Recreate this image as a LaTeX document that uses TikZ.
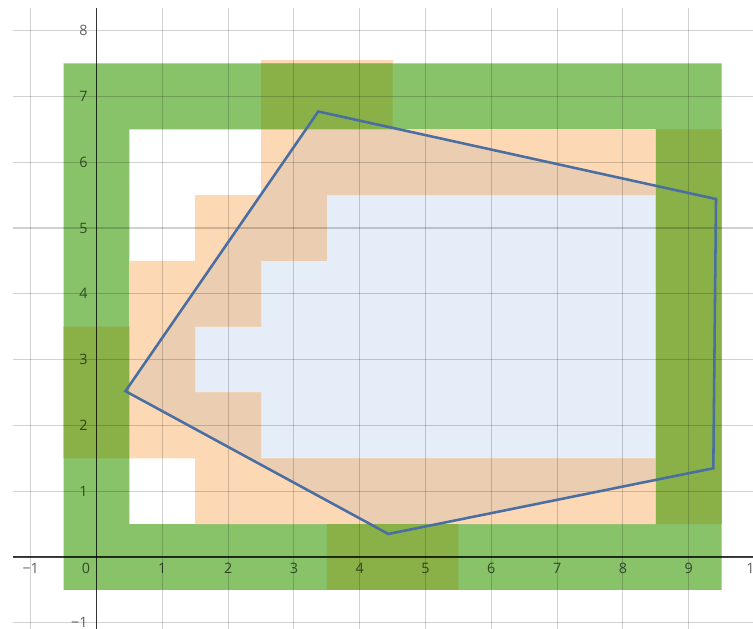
\documentclass[tikz,border=0pt]{standalone}
\usepackage{fontspec}
\setmainfont{Open Sans}
\definecolor{cgreen}{RGB}{136,194,105}
\definecolor{cdkgreen}{RGB}{138,176,72}
\definecolor{cpeach}{RGB}{253,216,181}
\definecolor{ctan}{RGB}{235,205,178}
\definecolor{clblue}{RGB}{229,237,248}
\definecolor{cline}{RGB}{72,110,162}
\tikzset{
  gridline/.style={black, opacity=0.18, line width=0.45pt},
  axisline/.style={black, opacity=0.75, line width=0.55pt},
  ticklab/.style={font=\fontsize{6.2}{7}\selectfont, text=black, text opacity=0.62, inner sep=0pt},
  polyline/.style={cline, line width=1.1pt, line join=miter},
}
\begin{document}
\begin{tikzpicture}
\useasboundingbox (-1.467,-1.094) rectangle (9.977,8.465);
% polygon vertices
\coordinate (pA) at (0.44,2.52);
\coordinate (pB) at (3.37,6.77);
\coordinate (pC) at (9.415,5.44);
\coordinate (pD) at (9.374,1.348);
\coordinate (pE) at (4.435,0.35);
% polygon fill
\fill[clblue] (pA) -- (pB) -- (pC) -- (pD) -- (pE) -- cycle;
% green ring
\fill[cgreen, even odd rule] (-0.5,-0.5) rectangle (9.5,7.5) (0.5,0.5) rectangle (8.5,6.5);
% peach cells
\def\peachcells{
  (2.5,5.5) rectangle (8.5,6.5)
  (1.5,4.5) rectangle (3.5,5.5)
  (0.5,3.5) rectangle (2.5,4.5)
  (0.5,2.5) rectangle (1.5,3.5)
  (0.5,1.5) rectangle (2.5,2.5)
  (1.5,0.5) rectangle (8.5,1.5)}
\fill[cpeach] \peachcells;
\begin{scope}
  \clip (pA) -- (pB) -- (pC) -- (pD) -- (pE) -- cycle;
  \fill[ctan] \peachcells;
\end{scope}
% overlapping cells
\fill[cdkgreen] (-0.5,1.5) rectangle (0.5,3.5)
  (8.5,0.5) rectangle (9.5,6.5)
  (2.5,6.5) rectangle (4.5,7.5)
  (3.5,-0.5) rectangle (5.5,0.5);
\fill[cpeach] (2.5,7.5) rectangle (4.5,7.55);
% grid
\foreach \x in {-1,...,9} \draw[gridline] (\x,-1.1) -- (\x,8.34);
\foreach \y in {-1,...,8} \draw[gridline] (-1.27,\y) -- (10,\y);
% axes
\coordinate (xl) at (-1.27,0);
\coordinate (xr) at (10,0);
\coordinate (yb) at (0,-1.1);
\coordinate (yt) at (0,8.34);
\draw[axisline] (xl) -- (xr);
\draw[axisline] (yb) -- (yt);
% tick labels
\node[ticklab] (lxm1) at (-1,-0.17) {−1};
\node[ticklab] (lx0) at (-0.16,-0.17) {0};
\foreach \x in {1,...,10} \node[ticklab] (lx\x) at (\x,-0.17) {\x};
\node[ticklab, anchor=east] (lym1) at (-0.13,-1) {−1};
\foreach \y in {1,...,8} \node[ticklab, anchor=east] (ly\y) at (-0.13,\y) {\y};
% polygon outline
\draw[polyline] (pA) -- (pB) -- (pC) -- (pD) -- (pE) -- cycle;
\end{tikzpicture}
\end{document}
